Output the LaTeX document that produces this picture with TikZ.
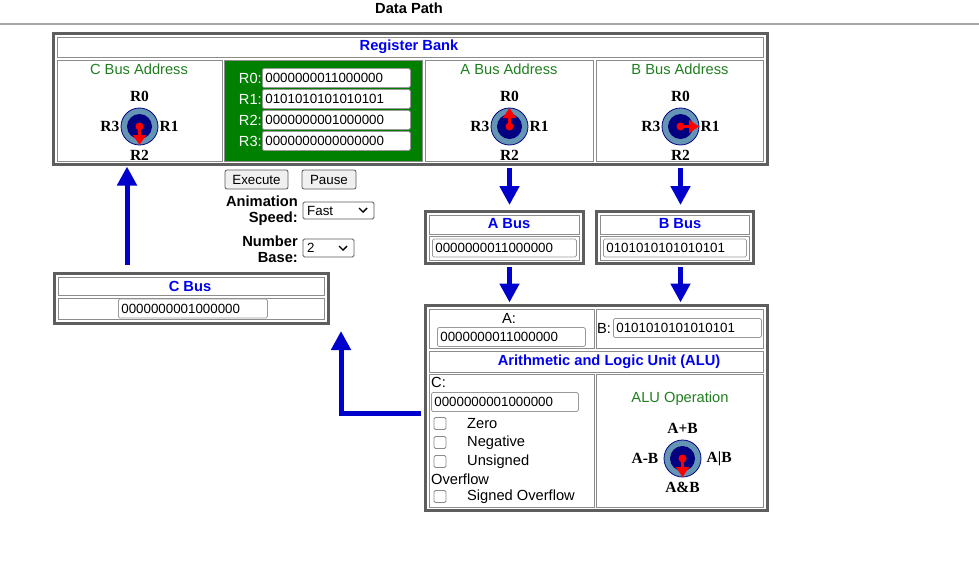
\documentclass[tikz,border=0pt]{standalone}
\usepackage{fontspec}
\setmainfont{Liberation Sans}
\newfontfamily\dialfont{Liberation Serif}
\usepackage{tikz}
\usetikzlibrary{arrows.meta}
\definecolor{dpblue}{HTML}{0000EE}
\definecolor{dparrow}{HTML}{0000CC}
\definecolor{dpgreen}{HTML}{1F7F1F}
\definecolor{dpcell}{HTML}{008000}
\definecolor{dialrim}{HTML}{6495B4}
\definecolor{dialcore}{HTML}{000080}
\definecolor{dpframe}{HTML}{5E5E5E}
\definecolor{dpline}{HTML}{8C8C8C}

\newcommand{\fsmall}{\fontsize{13.33}{15}\selectfont}
\newcommand{\fmid}{\fontsize{14.67}{16}\selectfont}

\tikzset{
  frame/.style={draw=dpframe, line width=3pt, inner sep=0pt},
  cell/.style={draw=dpline, line width=1pt},
  head/.style={font=\fmid\bfseries, text=dpblue, inner sep=0pt},
  celltitle/.style={font=\fmid, text=dpgreen, inner sep=0pt},
  lbl/.style={font=\fmid, inner sep=0pt},
  field/.style={draw=gray!80, fill=white, rounded corners=1.5pt, line width=0.8pt,
    font=\fsmall, text width=#1, align=left, inner xsep=3pt, inner ysep=0pt,
    minimum height=19pt, anchor=west},
  btn/.style={draw=gray!70!black, fill=gray!12, rounded corners=2pt, font=\fsmall,
    minimum height=19pt, inner sep=0pt, line width=0.8pt},
  selbox/.style={draw=gray!70!black, fill=white, rounded corners=1.5pt, line width=0.8pt},
  chk/.style={draw=gray!90, rounded corners=1.5pt, minimum size=12pt, inner sep=0pt, line width=0.8pt},
  dl/.style={font=\dialfont\bfseries\fontsize{15.5}{15.5}\selectfont, inner sep=0pt},
  busarrow/.style={draw=dparrow, line width=5pt, -{Triangle[width=19pt,length=19pt]}},
  pin/.style={draw=red, line width=3.5pt, -{Triangle[width=13pt,length=10pt]}},
}

% dial: name, centre, pin angle, side gap, top, right, bottom, left
\newcommand{\seldial}[8]{%
  \coordinate (#1) at #2;
  \filldraw[fill=dialrim, draw=dialcore, line width=0.8pt] (#1) circle (18.5);
  \fill[dialcore] (#1) circle (12.5);
  \draw[pin] (#1) -- ++(#3:18.5);
  \fill[red] (#1) circle (4);
  \path (#1) ++(0,-30) node[dl] (#1-t) {#5};
  \path (#1) ++(#4,0) node[dl, anchor=west] (#1-r) {#6};
  \path (#1) ++(0,29) node[dl] (#1-b) {#7};
  \path (#1) ++(-#4,0) node[dl, anchor=east] (#1-l) {#8};
}

\begin{document}
\begin{tikzpicture}[x=1pt, y=-1pt]
  \useasboundingbox (0,0) rectangle (979,576);

  \node[font=\fmid\bfseries] (title) at (409,8) {Data Path};
  \draw[gray!70, line width=1.2pt] (0,24) -- (979,24);

  % register bank
  \node[frame, minimum width=714pt, minimum height=131pt] (regbank) at (410,98.5) {};
  \draw[cell] (57,37) rectangle (763,57);
  \node[head] (rbhead) at (409,47) {Register Bank};
  \draw[cell] (57,60) rectangle (222,161);
  \draw[cell, fill=dpcell] (224,60) rectangle (422,161);
  \draw[cell] (425,60) rectangle (593,161);
  \draw[cell] (596,60) rectangle (763,161);
  \node[celltitle] (ccap) at (139,69) {C Bus Address};
  \node[celltitle] (acap) at (509,69) {A Bus Address};
  \node[celltitle] (bcap) at (680,69) {B Bus Address};
  \seldial{cdial}{(139.5,126.5)}{90}{20}{R0}{R1}{R2}{R3}
  \seldial{adial}{(509.5,126.5)}{270}{20}{R0}{R1}{R2}{R3}
  \seldial{bdial}{(680.5,126.5)}{0}{20}{R0}{R1}{R2}{R3}

  \node[lbl, text=white, anchor=east] (r0lbl) at (262,78) {R0:};
  \node[field=142pt] (r0) at (262,78) {0000000011000000};
  \node[lbl, text=white, anchor=east] (r1lbl) at (262,99) {R1:};
  \node[field=142pt] (r1) at (262,99) {0101010101010101};
  \node[lbl, text=white, anchor=east] (r2lbl) at (262,120) {R2:};
  \node[field=142pt] (r2) at (262,120) {0000000001000000};
  \node[lbl, text=white, anchor=east] (r3lbl) at (262,141) {R3:};
  \node[field=142pt] (r3) at (262,141) {0000000000000000};

  % controls
  \node[btn, minimum width=63pt] (exec) at (256.5,179.5) {Execute};
  \node[btn, minimum width=54pt] (pause) at (329,179.5) {Pause};
  \node[lbl, font=\fmid\bfseries, align=right, anchor=east] (speedlbl) at (298,211) {Animation\\Speed:};
  \draw[selbox] (303,202) rectangle (374,219);
  \node[font=\fsmall, anchor=west, inner sep=0pt] (speed) at (307,210.5) {Fast};
  \draw[line width=1.4pt] (359,208) -- (363,212) -- (367,208);
  \node[lbl, font=\fmid\bfseries, align=right, anchor=east] (baselbl) at (298,249) {Number\\Base:};
  \draw[selbox] (303,239) rectangle (354,257);
  \node[font=\fsmall, anchor=west, inner sep=0pt] (base) at (307,248) {2};
  \draw[line width=1.4pt] (339,246) -- (343,250) -- (347,246);

  % C bus
  \node[frame, minimum width=274pt, minimum height=50pt] (cbus) at (191,298) {};
  \draw[cell] (58,277) rectangle (324,295);
  \node[head] (cbhead) at (190,286) {C Bus};
  \draw[cell] (58,298) rectangle (324,319);
  \node[field=143pt] (cval) at (118,308.5) {0000000001000000};

  % A and B bus
  \node[frame, minimum width=158pt, minimum height=52pt] (abus) at (504,237) {};
  \draw[cell] (429,215) rectangle (579,234);
  \node[head] (abhead) at (509,224) {A Bus};
  \draw[cell] (429,236) rectangle (579,260);
  \node[field=138pt, minimum height=18pt] (aval) at (432,248) {0000000011000000};
  \node[frame, minimum width=157pt, minimum height=52pt] (bbus) at (674.5,237) {};
  \draw[cell] (600,215) rectangle (749,234);
  \node[head] (bbhead) at (680,224) {B Bus};
  \draw[cell] (600,236) rectangle (749,260);
  \node[field=137pt, minimum height=18pt] (bval) at (603,248) {0101010101010101};

  % ALU
  \node[frame, minimum width=342pt, minimum height=205pt] (alu) at (596,407.5) {};
  \draw[cell] (429,309) rectangle (594,348);
  \draw[cell] (596,309) rectangle (763,348);
  \draw[cell] (429,351) rectangle (763,372);
  \draw[cell] (429,374) rectangle (594,507);
  \draw[cell] (596,374) rectangle (763,507);
  \node[lbl] (ain) at (509,318) {A:};
  \node[field=142pt] (aop) at (437,337) {0000000011000000};
  \node[lbl, anchor=west] (bin) at (597,328) {B:};
  \node[field=142pt] (bop) at (613,328) {0101010101010101};
  \node[head] (aluhead) at (609,362) {Arithmetic and Logic Unit (ALU)};
  \node[lbl, anchor=west] (cin) at (431,382) {C:};
  \node[field=141pt] (cres) at (431,402) {0000000001000000};
  \node[chk] (zbox) at (440,423.5) {};
  \node[lbl, anchor=west] (zero) at (467,424) {Zero};
  \node[chk] (nbox) at (440,442.5) {};
  \node[lbl, anchor=west] (neg) at (467,443) {Negative};
  \node[chk] (ubox) at (440,461.5) {};
  \node[lbl, anchor=west] (uns) at (467,462) {Unsigned};
  \node[lbl, anchor=west] (ovf) at (431,479) {Overflow};
  \node[chk] (sbox) at (440,496.5) {};
  \node[lbl, anchor=west] (sovf) at (467,497) {Signed Overflow};
  \node[celltitle] (opcap) at (680,399) {ALU Operation};
  \seldial{opdial}{(682.5,458.5)}{90}{24}{A+B}{A\textbar B}{A\&B}{A-B}

  % buses
  \coordinate (cup) at (127,220);
  \coordinate (ccorner) at (341,413);
  \draw[busarrow, shorten <=7pt, shorten >=1pt] (cup |- cbus.north) -- (cup |- regbank.south);
  \draw[busarrow, shorten <=2.5pt, shorten >=4.5pt] (adial |- regbank.south) -- (adial |- abus.north);
  \draw[busarrow, shorten <=2.5pt, shorten >=4.5pt] (bdial |- regbank.south) -- (bdial |- bbus.north);
  \draw[busarrow, shorten <=2.5pt, shorten >=1pt] (adial |- abus.south) -- (adial |- alu.north);
  \draw[busarrow, shorten <=2.5pt, shorten >=1pt] (bdial |- bbus.south) -- (bdial |- alu.north);
  \draw[busarrow, shorten <=2.5pt, shorten >=6.5pt] (alu.west |- ccorner) -- (ccorner) -- (ccorner |- cbus.south);
\end{tikzpicture}
\end{document}
